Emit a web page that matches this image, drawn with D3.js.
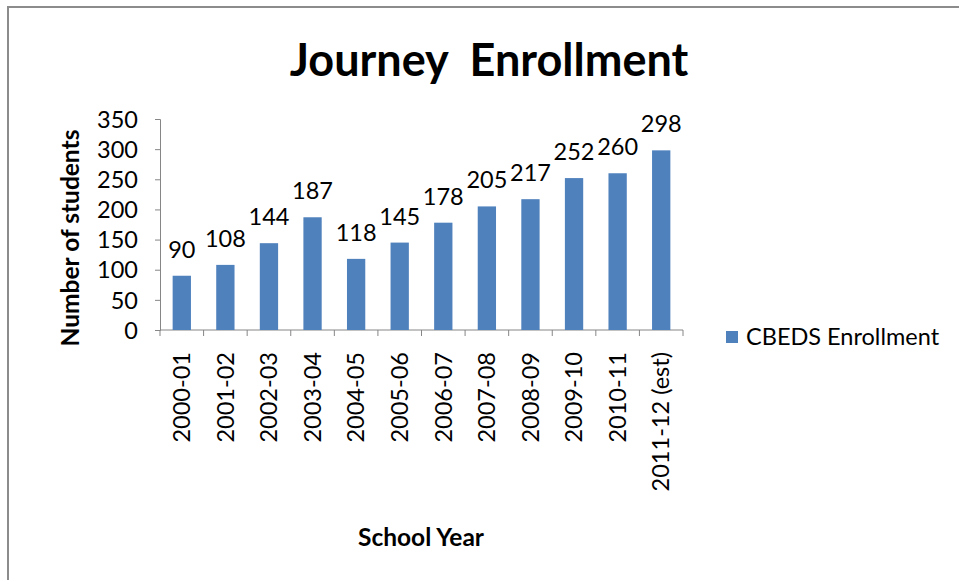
<!DOCTYPE html>
<html>
<head>
<meta charset="utf-8">
<script src="https://cdn.jsdelivr.net/npm/d3@7"></script>
<style>
  body { margin: 0; background: white; }
  text { font-family: Lato, "Open Sans", sans-serif; fill: #000; }
</style>
</head>
<body>
<script>
var years = ['2000-01', '2001-02', '2002-03', '2003-04', '2004-05', '2005-06',
             '2006-07', '2007-08', '2008-09', '2009-10', '2010-11', '2011-12 (est)'];
var enrollment = [90, 108, 144, 187, 118, 145, 178, 205, 217, 252, 260, 298];
var yTicks = [0, 50, 100, 150, 200, 250, 300, 350];
var seriesName = 'CBEDS Enrollment';

var svgWidth = 959,
    svgHeight = 580;

var margin = {top: 119, left: 160, bottom: 250, right: 276};
var width = svgWidth - margin.left - margin.right,
    height = svgHeight - margin.top - margin.bottom;

var barColor = '#4F81BD',
    axisColor = '#868686',
    fontSize = '23.5px';

var svg = d3.select('body').append('svg')
  .attr('width', svgWidth)
  .attr('height', svgHeight)

// chart area border (only top and left show in the picture)
svg.append('path')
  .attr('d', 'M8,580 V7 H959')
  .attr('fill', 'none')
  .attr('stroke', '#8c8c8c')
  .attr('stroke-width', 2)

svg.append('text')
  .attr('x', 489)
  .attr('y', 76)
  .attr('text-anchor', 'middle')
  .style('font-size', '45px')
  .style('font-weight', 'bold')
  .style('white-space', 'pre')
  .text('Journey  Enrollment')

var g = svg.append('g')
  .attr('transform', `translate(${margin.left},${margin.top})`)

var xScale = d3.scaleBand().domain(years).range([0, width]).paddingInner(0.58).paddingOuter(0.29)
var xTickScale = d3.scaleLinear().domain([0, years.length]).range([0, width])
var yScale = d3.scaleLinear().domain([0, 350]).range([height, 0])

var yAxis = d3.axisLeft(yScale).tickValues(yTicks).tickSize(5).tickPadding(17)
var gy = g.append('g').attr('class', 'axis-y').call(yAxis)
gy.select('.domain').attr('stroke', axisColor)
gy.selectAll('.tick line').attr('stroke', axisColor)
gy.selectAll('.tick text').style('font-size', fontSize).attr('dy', '0.35em').attr('font-family', null)

// x axis line with ticks between categories
var gx = g.append('g').attr('class', 'axis-x').attr('transform', `translate(0,${height})`)
gx.append('line')
  .attr('x1', 0).attr('x2', width)
  .attr('stroke', axisColor)
gx.selectAll('.xtick').data(d3.range(years.length + 1)).enter().append('line')
  .attr('class', 'xtick')
  .attr('x1', d => xTickScale(d)).attr('x2', d => xTickScale(d))
  .attr('y1', 0).attr('y2', 6)
  .attr('stroke', axisColor)

gx.selectAll('.xlabel').data(years).enter().append('text')
  .attr('class', 'xlabel')
  .attr('transform', d => `translate(${xScale(d) + xScale.bandwidth() / 2},22) rotate(-90)`)
  .attr('text-anchor', 'end')
  .attr('dy', '0.35em')
  .style('font-size', fontSize)
  .text(d => d)

g.selectAll('.bar').data(enrollment).enter().append('rect')
  .attr('class', 'bar')
  .attr('x', (d, i) => xScale(years[i]))
  .attr('y', d => yScale(d))
  .attr('width', xScale.bandwidth())
  .attr('height', d => height - yScale(d))
  .attr('fill', barColor)

g.selectAll('.value').data(enrollment).enter().append('text')
  .attr('class', 'value')
  .attr('x', (d, i) => xScale(years[i]) + xScale.bandwidth() / 2)
  .attr('y', d => yScale(d) - 18)
  .attr('text-anchor', 'middle')
  .style('font-size', fontSize)
  .text(d => d)

svg.append('text')
  .attr('transform', 'translate(79,238) rotate(-90)')
  .attr('text-anchor', 'middle')
  .style('font-size', '24.5px')
  .style('font-weight', 'bold')
  .text('Number of students')

svg.append('text')
  .attr('x', 421)
  .attr('y', 546)
  .attr('text-anchor', 'middle')
  .style('font-size', '24.5px')
  .style('font-weight', 'bold')
  .text('School Year')

var legend = svg.append('g').attr('transform', 'translate(726,331)')
legend.append('rect')
  .attr('width', 12).attr('height', 12)
  .attr('fill', barColor)
legend.append('text')
  .attr('x', 20).attr('y', 6)
  .attr('dy', '0.35em')
  .style('font-size', fontSize)
  .text(seriesName)
</script>
</body>
</html>
